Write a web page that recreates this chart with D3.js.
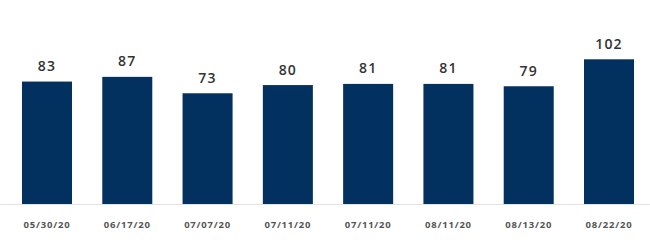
<!DOCTYPE html>
<html><head><meta charset="utf-8">
<script src="https://cdn.jsdelivr.net/npm/d3@7"></script>
<style>html,body{margin:0;padding:0;background:#fff;}svg{display:block;}</style>
</head><body>
<svg id="c" width="650" height="243"></svg>
<script>
const categories = ["05/30/20","06/17/20","07/07/20","07/11/20","07/11/20","08/11/20","08/13/20","08/22/20"];
const values = [83, 87, 73, 80, 81, 81, 79, 102];

const svg = d3.select("#c");
const W = 650, H = 243;
const baseY = 204;

const x = d3.scaleBand().domain(d3.range(categories.length))
  .range([6.85, 649.15]).paddingInner(0.377).paddingOuter(0.1885);
const y = d3.scaleLinear().domain([-21.5, 102]).range([baseY, 59.3]);

svg.append("line").attr("x1", 0).attr("x2", W)
  .attr("y1", baseY + 0.5).attr("y2", baseY + 0.5)
  .attr("stroke", "#e3e3e3").attr("stroke-width", 1);

svg.selectAll("rect.bar").data(values).join("rect")
  .attr("class", "bar")
  .attr("x", (d, i) => x(i))
  .attr("width", x.bandwidth())
  .attr("y", d => y(d))
  .attr("height", d => baseY - y(d))
  .attr("fill", "#02305f");

svg.selectAll("text.val").data(values).join("text")
  .attr("class", "val")
  .attr("x", (d, i) => x(i) + x.bandwidth() / 2)
  .attr("y", d => y(d) - 10.5)
  .attr("text-anchor", "middle")
  .attr("font-family", "Open Sans")
  .attr("font-weight", 600)
  .attr("font-size", 14)
  .attr("letter-spacing", 1.2)
  .attr("fill", "#333")
  .text(d => d);

svg.selectAll("text.cat").data(categories).join("text")
  .attr("class", "cat")
  .attr("x", (d, i) => x(i) + x.bandwidth() / 2)
  .attr("y", 228)
  .attr("text-anchor", "middle")
  .attr("font-family", "Open Sans")
  .attr("font-weight", 700)
  .attr("font-size", 9.5)
  .attr("letter-spacing", 0.8)
  .attr("fill", "#555")
  .text(d => d);
</script>
</body></html>
